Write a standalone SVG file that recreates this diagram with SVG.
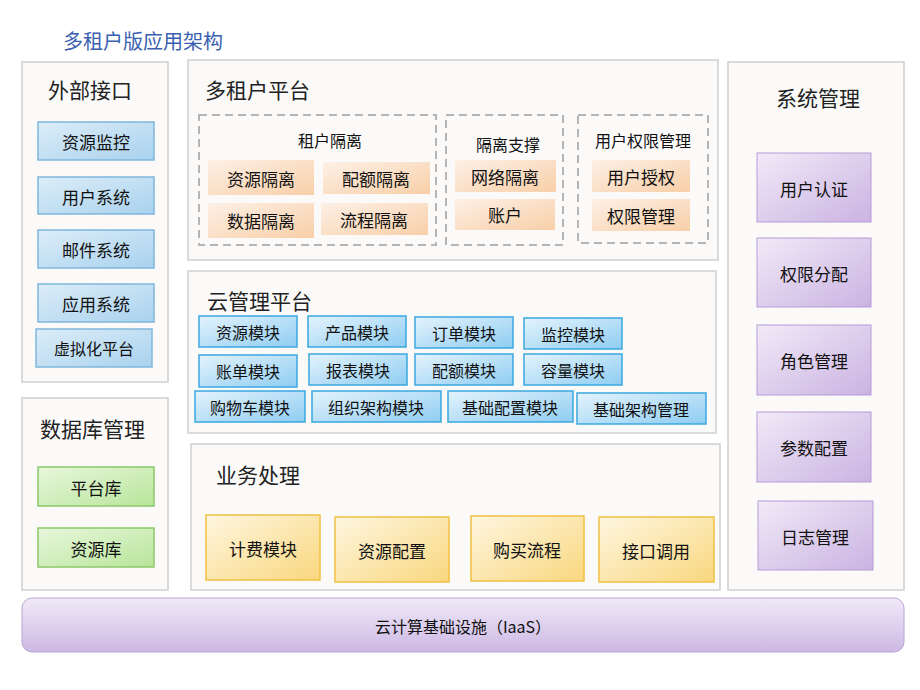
<svg xmlns="http://www.w3.org/2000/svg" width="920" height="690" viewBox="0 0 920 690">
<defs>
<linearGradient id="gBlue" x1="0" y1="0" x2="1" y2="1"><stop offset="0" stop-color="#dcedf8"/><stop offset="1" stop-color="#a9d2ee"/></linearGradient>
<linearGradient id="gCyan" x1="0" y1="0" x2="1" y2="1"><stop offset="0" stop-color="#e4f3fc"/><stop offset="1" stop-color="#8fcdf2"/></linearGradient>
<linearGradient id="gGreen" x1="0" y1="0" x2="1" y2="1"><stop offset="0" stop-color="#e8f7dc"/><stop offset="1" stop-color="#b8e59a"/></linearGradient>
<linearGradient id="gOrange" x1="0" y1="0" x2="1" y2="1"><stop offset="0" stop-color="#fdf0e6"/><stop offset="1" stop-color="#f8cfa8"/></linearGradient>
<linearGradient id="gYellow" x1="0" y1="0" x2="1" y2="1"><stop offset="0" stop-color="#fef6e0"/><stop offset="1" stop-color="#f9d77e"/></linearGradient>
<linearGradient id="gPurple" x1="0" y1="0" x2="1" y2="1"><stop offset="0" stop-color="#f1eaf8"/><stop offset="1" stop-color="#cbb3e2"/></linearGradient>
<linearGradient id="gBar" x1="0" y1="0" x2="0" y2="1"><stop offset="0" stop-color="#f0eaf8"/><stop offset="1" stop-color="#cdb8e4"/></linearGradient>
</defs>
<style>
text{font-family:"Noto Sans CJK SC","Liberation Sans",sans-serif;fill:#111;text-anchor:middle;dominant-baseline:central}
.panel{fill:#fbfaf9;stroke:#cfcfcf;stroke-width:1.5}
.title{font-size:21px;text-anchor:start;fill:#222}
.dash{fill:none;stroke:#b5b5b5;stroke-width:2;stroke-dasharray:8 5}
.blue{fill:url(#gBlue);stroke:#7fb6dc;stroke-width:1.5}
.cyan{fill:url(#gCyan);stroke:#3aa8e0;stroke-width:1.5}
.green{fill:url(#gGreen);stroke:#8cc86a;stroke-width:1.5}
.orange{fill:url(#gOrange);stroke:none}
.yellow{fill:url(#gYellow);stroke:#f0c040;stroke-width:1.5}
.purple{fill:url(#gPurple);stroke:#b79ad6;stroke-width:1}
.t{font-size:17px}
.s{font-size:16px}
</style>
<text x="63" y="40" style="font-size:20px;text-anchor:start;fill:#3a5fb0">多租户版应用架构</text>

<g id="ext"><rect class="panel" x="22" y="62" width="146" height="320"/><text class="title" x="48" y="89">外部接口</text>
<g id="n1"><rect class="blue" x="38" y="122" width="116" height="38"/><text class="t" x="96" y="141">资源监控</text></g>
<g id="n2"><rect class="blue" x="38" y="177" width="116" height="37"/><text class="t" x="96" y="196">用户系统</text></g>
<g id="n3"><rect class="blue" x="38" y="230" width="116" height="38"/><text class="t" x="96" y="249">邮件系统</text></g>
<g id="n4"><rect class="blue" x="38" y="284" width="116" height="38"/><text class="t" x="96" y="303">应用系统</text></g>
<g id="n5"><rect class="blue" x="36" y="329" width="116" height="38"/><text class="s" x="94" y="348">虚拟化平台</text></g>
</g>

<g id="db"><rect class="panel" x="22" y="398" width="146" height="192"/><text class="title" x="40" y="428">数据库管理</text>
<g id="n6"><rect class="green" x="38" y="467" width="116" height="39"/><text class="t" x="96" y="487">平台库</text></g>
<g id="n7"><rect class="green" x="38" y="528" width="116" height="39"/><text class="t" x="96" y="548">资源库</text></g>
</g>

<g id="mt"><rect class="panel" x="188" y="60" width="530" height="200"/><text class="title" x="205" y="89">多租户平台</text>
<rect class="dash" x="199" y="115" width="237" height="130"/><text class="s" x="330" y="140">租户隔离</text>
<g id="n8"><rect class="orange" x="208" y="160" width="106" height="35"/><text class="t" x="261" y="178">资源隔离</text></g>
<g id="n9"><rect class="orange" x="323" y="162" width="107" height="32"/><text class="t" x="376" y="178">配额隔离</text></g>
<g id="n10"><rect class="orange" x="208" y="203" width="106" height="35"/><text class="t" x="261" y="220">数据隔离</text></g>
<g id="n11"><rect class="orange" x="321" y="203" width="107" height="32"/><text class="t" x="374" y="219">流程隔离</text></g>
<rect class="dash" x="446" y="115" width="117" height="130"/><text class="s" x="508" y="144">隔离支撑</text>
<g id="n12"><rect class="orange" x="455" y="160" width="101" height="32"/><text class="t" x="505" y="176">网络隔离</text></g>
<g id="n13"><rect class="orange" x="455" y="199" width="100" height="31"/><text class="t" x="505" y="214">账户</text></g>
<rect class="dash" x="578" y="115" width="130" height="128"/><text class="s" x="643" y="140">用户权限管理</text>
<g id="n14"><rect class="orange" x="592" y="160" width="98" height="32"/><text class="t" x="641" y="176">用户授权</text></g>
<g id="n15"><rect class="orange" x="592" y="199" width="98" height="32"/><text class="t" x="641" y="215">权限管理</text></g>
</g>

<g id="cloud"><rect class="panel" x="188" y="271" width="528" height="162"/><text class="title" x="207" y="300">云管理平台</text>
<g id="c1"><rect class="cyan" x="199" y="316" width="98" height="31"/><text class="s" x="248" y="332">资源模块</text></g>
<g id="c2"><rect class="cyan" x="308" y="316" width="98" height="31"/><text class="s" x="357" y="332">产品模块</text></g>
<g id="c3"><rect class="cyan" x="415" y="317" width="98" height="31"/><text class="s" x="464" y="333">订单模块</text></g>
<g id="c4"><rect class="cyan" x="524" y="318" width="98" height="31"/><text class="s" x="573" y="334">监控模块</text></g>
<g id="c5"><rect class="cyan" x="199" y="355" width="98" height="32"/><text class="s" x="248" y="371">账单模块</text></g>
<g id="c6"><rect class="cyan" x="309" y="354" width="98" height="31"/><text class="s" x="358" y="370">报表模块</text></g>
<g id="c7"><rect class="cyan" x="415" y="354" width="98" height="31"/><text class="s" x="464" y="370">配额模块</text></g>
<g id="c8"><rect class="cyan" x="524" y="354" width="98" height="31"/><text class="s" x="573" y="370">容量模块</text></g>
<g id="c9"><rect class="cyan" x="195" y="391" width="110" height="31"/><text class="s" x="250" y="407">购物车模块</text></g>
<g id="c10"><rect class="cyan" x="312" y="391" width="129" height="31"/><text class="s" x="376" y="407">组织架构模块</text></g>
<g id="c11"><rect class="cyan" x="448" y="391" width="125" height="31"/><text class="s" x="510" y="407">基础配置模块</text></g>
<g id="c12"><rect class="cyan" x="577" y="393" width="129" height="31"/><text class="s" x="641" y="409">基础架构管理</text></g>
</g>

<g id="biz"><rect class="panel" x="191" y="444" width="529" height="146"/><text class="title" x="216" y="474">业务处理</text>
<g id="b1"><rect class="yellow" x="206" y="515" width="114" height="65"/><text class="t" x="263" y="548">计费模块</text></g>
<g id="b2"><rect class="yellow" x="335" y="517" width="114" height="65"/><text class="t" x="392" y="550">资源配置</text></g>
<g id="b3"><rect class="yellow" x="471" y="516" width="113" height="65"/><text class="t" x="527" y="549">购买流程</text></g>
<g id="b4"><rect class="yellow" x="599" y="517" width="115" height="65"/><text class="t" x="656" y="550">接口调用</text></g>
</g>

<g id="sys"><rect class="panel" x="728" y="62" width="176" height="528"/><text class="title" x="776" y="97">系统管理</text>
<g id="s1"><rect class="purple" x="757" y="153" width="114" height="69"/><text class="t" x="814" y="188">用户认证</text></g>
<g id="s2"><rect class="purple" x="757" y="238" width="114" height="69"/><text class="t" x="814" y="273">权限分配</text></g>
<g id="s3"><rect class="purple" x="757" y="325" width="114" height="70"/><text class="t" x="814" y="360">角色管理</text></g>
<g id="s4"><rect class="purple" x="757" y="412" width="114" height="70"/><text class="t" x="814" y="447">参数配置</text></g>
<g id="s5"><rect class="purple" x="758" y="501" width="115" height="69"/><text class="t" x="815" y="536">日志管理</text></g>
</g>

<g id="iaas"><rect x="22" y="598" width="882" height="54" rx="10" fill="url(#gBar)" stroke="#b8a6d0" stroke-width="1"/><text class="s" x="463" y="626">云计算基础设施（IaaS）</text></g>
<g id="connectors"/>
</svg>
